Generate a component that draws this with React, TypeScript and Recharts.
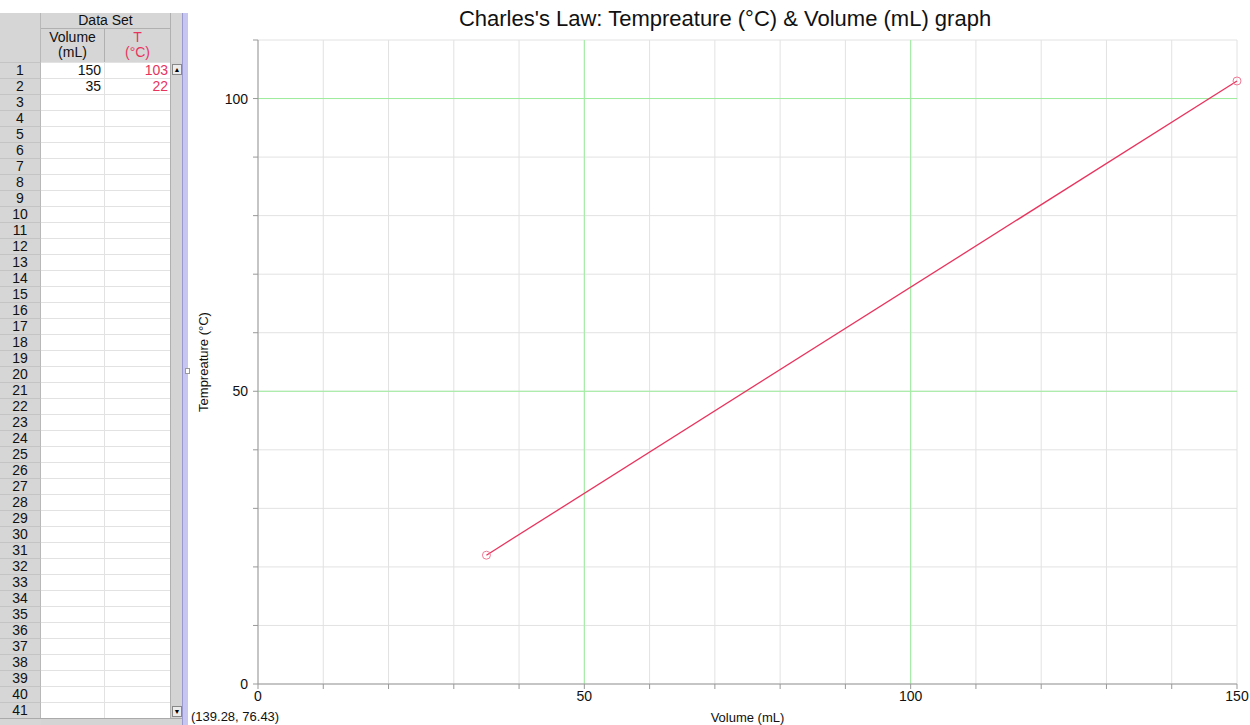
import React from "react"
import {
  LineChart,
  Line,
  XAxis,
  YAxis,
  CartesianGrid,
  ReferenceLine,
} from "recharts"

// values from the data table
const volumes = [150, 35]
const temps = [103, 22]

const xTicks = [0, 10, 20, 30, 40, 50, 60, 70, 80, 90, 100, 110, 120, 130, 140, 150]
const yTicks = [0, 10, 20, 30, 40, 50, 60, 70, 80, 90, 100, 110]
const majorLines = [50, 100]

const LINE_COLOR = "#e8335e"
const GREEN = "#9ded9d"
const FONT = "Liberation Sans, Arial, sans-serif"

const TITLE = "Charles's Law: Tempreature (°C) & Volume (mL) graph"
const X_LABEL = "Volume (mL)"
const Y_LABEL = "Tempreature (°C)"
const CURSOR_TEXT = "(139.28, 76.43)"

const ROW_COUNT = 41
const ROW_H = 16
const TABLE_TOP = 13

const chartData = volumes.map((v, i) => ({ volume: v, temp: temps[i] }))

const majorLabel = (v: number) => (v % 50 === 0 ? String(v) : "")

function DataTable() {
  const rows = Array.from({ length: ROW_COUNT }, (_, i) => i + 1)
  const bodyTop = 62
  const grey = "#d6d6d6"
  const cell: React.CSSProperties = { position: "absolute", boxSizing: "border-box" }
  return (
    <div style={{ position: "absolute", left: 0, top: 0, width: 190, height: 725, fontFamily: FONT, fontSize: 14 }}>
      {/* header */}
      <div style={{ ...cell, left: 0, top: TABLE_TOP, width: 41, height: bodyTop - TABLE_TOP, background: grey, borderRight: "1px solid #b8b8b8" }} />
      <div style={{ ...cell, left: 41, top: TABLE_TOP, width: 129, height: 16, background: grey, borderBottom: "1px solid #b0b0b0", textAlign: "center", lineHeight: "15px", color: "#111" }}>
        Data Set
      </div>
      <div style={{ ...cell, left: 41, top: 29, width: 64, height: 33, background: grey, borderRight: "1px solid #b0b0b0", textAlign: "center", lineHeight: "15px", color: "#111", paddingTop: 1 }}>
        Volume<br />(mL)
      </div>
      <div style={{ ...cell, left: 105, top: 29, width: 65, height: 33, background: grey, textAlign: "center", lineHeight: "15px", color: LINE_COLOR, paddingTop: 1 }}>
        T<br />(°C)
      </div>
      <div style={{ ...cell, left: 170, top: TABLE_TOP, width: 12, height: bodyTop - TABLE_TOP, background: grey, borderLeft: "1px solid #b0b0b0" }} />
      {/* rows */}
      {rows.map((r, i) => (
        <React.Fragment key={r}>
          <div style={{ ...cell, left: 0, top: bodyTop + i * ROW_H, width: 41, height: ROW_H, background: grey, borderTop: "1px solid #c4c4c4", borderRight: "1px solid #b8b8b8", textAlign: "center", lineHeight: "15px", color: "#111" }}>
            {r}
          </div>
          <div style={{ ...cell, left: 41, top: bodyTop + i * ROW_H, width: 64, height: ROW_H, background: "#fff", borderTop: "1px solid #e2e2e2", borderRight: "1px solid #e2e2e2", textAlign: "right", paddingRight: 3, lineHeight: "15px", color: "#111" }}>
            {i < volumes.length ? volumes[i] : ""}
          </div>
          <div style={{ ...cell, left: 105, top: bodyTop + i * ROW_H, width: 65, height: ROW_H, background: "#fff", borderTop: "1px solid #e2e2e2", textAlign: "right", paddingRight: 2, lineHeight: "15px", color: LINE_COLOR }}>
            {i < temps.length ? temps[i] : ""}
          </div>
        </React.Fragment>
      ))}
      {/* vertical scrollbar */}
      <div style={{ ...cell, left: 170, top: bodyTop, width: 12, height: ROW_COUNT * ROW_H, background: "#d4d4d4", borderLeft: "1px solid #b0b0b0" }} />
      <div style={{ ...cell, left: 172, top: bodyTop + 2, width: 10, height: 11, background: "#ececec", border: "1px solid #888", fontSize: 7, textAlign: "center", lineHeight: "9px" }}>▲</div>
      <div style={{ ...cell, left: 172, top: bodyTop + ROW_COUNT * ROW_H - 12, width: 10, height: 11, background: "#ececec", border: "1px solid #888", fontSize: 7, textAlign: "center", lineHeight: "9px" }}>▼</div>
      {/* horizontal scrollbar */}
      <div style={{ ...cell, left: 41, top: bodyTop + ROW_COUNT * ROW_H, width: 141, height: 725 - bodyTop - ROW_COUNT * ROW_H, background: "#d4d4d4", borderTop: "1px solid #aaa" }} />
      <div style={{ ...cell, left: 0, top: bodyTop + ROW_COUNT * ROW_H, width: 41, height: 725 - bodyTop - ROW_COUNT * ROW_H, background: "#d6d6d6", borderTop: "1px solid #aaa" }} />
      {/* splitter */}
      <div style={{ ...cell, left: 182, top: TABLE_TOP, width: 6, height: 725 - TABLE_TOP, background: "#c6c6f0", borderLeft: "1px solid #9a9ad0" }} />
      <div style={{ ...cell, left: 185, top: 368, width: 5, height: 6, background: "#fff", border: "1px solid #999" }} />
    </div>
  )
}

export default function App() {
  return (
    <div style={{ position: "absolute", left: 0, top: 0, width: 1250, height: 725, background: "#fff", overflow: "hidden", fontFamily: FONT }}>
      <DataTable />
      <div style={{ position: "absolute", left: 0, top: 6, width: 1450, textAlign: "center", fontSize: 22, lineHeight: "26px", color: "#111" }}>
        {TITLE}
      </div>
      <div style={{ position: "absolute", left: 0, top: 0 }}>
        <LineChart
          width={1250}
          height={725}
          data={chartData}
          margin={{ top: 40, right: 13, bottom: 0, left: 198 }}
        >
          <CartesianGrid stroke="#e2e2e2" strokeWidth={1} />
          {majorLines.map((v) => (
            <ReferenceLine key={"x" + v} x={v} stroke={GREEN} strokeWidth={1} />
          ))}
          {majorLines.map((v) => (
            <ReferenceLine key={"y" + v} y={v} stroke={GREEN} strokeWidth={1} />
          ))}
          <XAxis
            type="number"
            dataKey="volume"
            domain={[0, 150]}
            ticks={xTicks}
            interval={0}
            tickFormatter={majorLabel}
            height={41}
            stroke="#999"
            tickSize={5}
            tick={{ fill: "#111", fontSize: 14, fontFamily: FONT }}
            label={(props: any) => {
              const vb = props.viewBox || {}
              return (
                <text x={vb.x + vb.width / 2} y={722} textAnchor="middle" fontSize={13} fontFamily={FONT} fill="#111">
                  {X_LABEL}
                </text>
              )
            }}
          />
          <YAxis
            type="number"
            domain={[0, 110]}
            ticks={yTicks}
            interval={0}
            tickFormatter={majorLabel}
            width={60}
            stroke="#999"
            tickSize={5}
            tickMargin={5}
            tick={{ fill: "#111", fontSize: 14, fontFamily: FONT }}
            label={(props: any) => {
              const vb = props.viewBox || {}
              const cy = vb.y + vb.height / 2
              return (
                <text x={208} y={cy} transform={`rotate(-90, 208, ${cy})`} textAnchor="middle" fontSize={13} fontFamily={FONT} fill="#111">
                  {Y_LABEL}
                </text>
              )
            }}
          />
          <Line
            type="linear"
            dataKey="temp"
            stroke={LINE_COLOR}
            strokeWidth={1.3}
            dot={{ r: 4, stroke: "#f07a95", strokeWidth: 1, fill: "none" }}
            isAnimationActive={false}
          />
        </LineChart>
      </div>
      <div style={{ position: "absolute", left: 191, top: 709, fontSize: 13, color: "#111" }}>
        {CURSOR_TEXT}
      </div>
    </div>
  )
}
